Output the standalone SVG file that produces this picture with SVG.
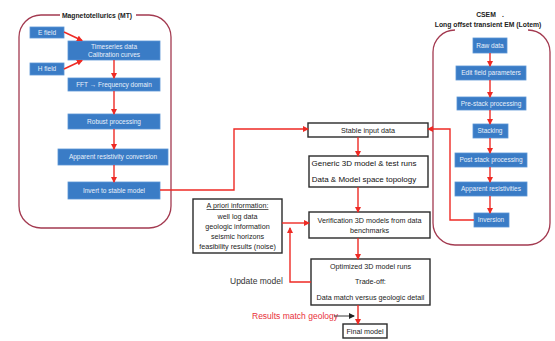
<svg xmlns="http://www.w3.org/2000/svg" width="555" height="341" viewBox="0 0 555 341">
<style>
.frame{fill:none;stroke:#a33a50;stroke-width:1.3}
.blue{fill:#3a7cc6;stroke:#5b95d4;stroke-width:0.8}
.bt{font-family:"Liberation Sans",Arial,sans-serif;font-size:6.5px;fill:#e8f0fa;text-anchor:middle}
.box{fill:#fff;stroke:#2a2a2a;stroke-width:1.4}
.kt{font-family:"Liberation Sans",Arial,sans-serif;font-size:7.2px;fill:#222;text-anchor:middle}
.gt{font-family:"Liberation Sans",Arial,sans-serif;font-size:8px;fill:#111;text-anchor:middle}
.ttl{font-family:"Liberation Sans",Arial,sans-serif;font-size:6.8px;font-weight:bold;fill:#222;text-anchor:middle}
.red{fill:none;stroke:#ee2a24;stroke-width:1.4}
.blk{fill:none;stroke:#222;stroke-width:0.9}
</style>
<defs>
<marker id="ar" markerWidth="6" markerHeight="6" refX="5" refY="3" orient="auto" markerUnits="userSpaceOnUse">
<path d="M0,0 L6,3 L0,6 z" fill="#ee2a24"/>
</marker>
<marker id="ab" markerWidth="6" markerHeight="6" refX="5" refY="3" orient="auto" markerUnits="userSpaceOnUse">
<path d="M0,0 L6,3 L0,6 z" fill="#222"/>
</marker>
</defs>

<g id="mt-frame">
<path class="frame" d="M60,15 H41 A22,22 0 0 0 19,37 V206 A22,22 0 0 0 41,228 H149 A22,22 0 0 0 171,206 V37 A22,22 0 0 0 149,15 H136"/>
<text class="ttl" x="97" y="17.5">Magnetotellurics (MT)</text>
</g>
<g id="csem-frame">
<path class="frame" d="M455,30 A22,22 0 0 0 433,52 V223 A22,22 0 0 0 455,245 H528 A22,22 0 0 0 550,223 V52 A22,22 0 0 0 528,30"/>
<text class="ttl" x="486" y="17">CSEM</text>
<text class="ttl" x="503" y="17">.</text>
<text class="ttl" x="488" y="26.5">Long offset transient EM (Lotem)</text>
</g>

<g id="efield"><rect class="blue" x="30" y="27" width="34" height="11"/><text class="bt" x="47" y="34.5">E field</text></g>
<g id="timeseries"><rect class="blue" x="68" y="41" width="92" height="19"/><text class="bt" x="114" y="48.5">Timeseries data</text><text class="bt" x="114" y="57">Calibration curves</text></g>
<g id="hfield"><rect class="blue" x="30" y="63" width="34" height="12"/><text class="bt" x="47" y="71.3">H field</text></g>
<g id="fft"><rect class="blue" x="68" y="78" width="92" height="13"/><text class="bt" x="114" y="86.8">FFT → Frequency domain</text></g>
<g id="robust"><rect class="blue" x="68" y="114" width="92" height="15"/><text class="bt" x="114" y="123.8">Robust processing</text></g>
<g id="appres"><rect class="blue" x="58" y="149" width="110" height="16"/><text class="bt" x="113" y="159.3">Apparent resistivity conversion</text></g>
<g id="invert"><rect class="blue" x="68" y="182" width="92" height="17"/><text class="bt" x="114" y="192.8">Invert to stable model</text></g>

<g id="rawdata"><rect class="blue" x="473" y="38" width="34" height="15"/><text class="bt" x="490" y="47.5">Raw data</text></g>
<g id="editfield"><rect class="blue" x="456" y="66" width="70" height="14"/><text class="bt" x="491" y="75.3">Edit field parameters</text></g>
<g id="prestack"><rect class="blue" x="457" y="97" width="69" height="13"/><text class="bt" x="491" y="105.8">Pre-stack processing</text></g>
<g id="stacking"><rect class="blue" x="473" y="124" width="35" height="14"/><text class="bt" x="490" y="133.3">Stacking</text></g>
<g id="poststack"><rect class="blue" x="455" y="153" width="72" height="14"/><text class="bt" x="491" y="162.3">Post stack processing</text></g>
<g id="appresist"><rect class="blue" x="455" y="182" width="72" height="14"/><text class="bt" x="491" y="191.3">Apparent resistivities</text></g>
<g id="inversion"><rect class="blue" x="474" y="213" width="35" height="14"/><text class="bt" x="491" y="222.3">Inversion</text></g>

<g id="stable"><rect class="box" x="308" y="123" width="120" height="14"/><text class="kt" x="368" y="132.5">Stable input data</text></g>
<g id="generic"><rect class="box" x="309" y="156" width="119" height="31"/><text class="gt" x="364" y="166">Generic 3D model &amp; test runs</text><text class="gt" x="364" y="182">Data &amp; Model space topology</text></g>
<g id="apriori"><rect class="box" x="193" y="199" width="89" height="54"/>
<text class="kt" x="237.5" y="208" style="text-decoration:underline">A priori information:</text>
<text class="kt" x="237.5" y="218.5">well log data</text>
<text class="kt" x="237.5" y="228.5">geologic information</text>
<text class="kt" x="237.5" y="238.5">seismic horizons</text>
<text class="kt" x="237.5" y="248.5">feasibility results (noise)</text></g>
<g id="verification"><rect class="box" x="309" y="212" width="121" height="26"/><text class="kt" x="369.5" y="222.5">Verification 3D models from data</text><text class="kt" x="369.5" y="232.5">benchmarks</text></g>
<g id="optimized"><rect class="box" x="311" y="259" width="119" height="46"/><text class="kt" x="370.5" y="268.5">Optimized 3D model runs</text><text class="kt" x="370.5" y="284">Trade-off:</text><text class="kt" x="370.5" y="300">Data match versus geologic detail</text></g>
<g id="final"><rect class="box" x="343" y="324" width="44" height="14"/><text class="kt" x="365" y="333.5">Final model</text></g>

<g id="labels">
<text x="230" y="284" style="font-family:'Liberation Sans',Arial,sans-serif;font-size:8.5px;fill:#333">Update model</text>
<text x="252" y="319" style="font-family:'Liberation Sans',Arial,sans-serif;font-size:8.5px;fill:#e8303a">Results match geology</text>
</g>

<g id="connectors">
<line class="red" x1="64" y1="32" x2="82" y2="40.5" marker-end="url(#ar)"/>
<line class="red" x1="64" y1="69" x2="82" y2="60.5" marker-end="url(#ar)"/>
<line class="red" x1="114" y1="60" x2="114" y2="78" marker-end="url(#ar)"/>
<line class="red" x1="114" y1="91" x2="114" y2="114" marker-end="url(#ar)"/>
<line class="red" x1="114" y1="129" x2="114" y2="149" marker-end="url(#ar)"/>
<line class="red" x1="114" y1="165" x2="114" y2="182" marker-end="url(#ar)"/>
<path class="red" d="M160,190 H234 V129 H308" marker-end="url(#ar)"/>
<line class="red" x1="490" y1="53" x2="490" y2="66" marker-end="url(#ar)"/>
<line class="red" x1="490" y1="80" x2="490" y2="97" marker-end="url(#ar)"/>
<line class="red" x1="490" y1="110" x2="490" y2="124" marker-end="url(#ar)"/>
<line class="red" x1="490" y1="138" x2="490" y2="153" marker-end="url(#ar)"/>
<line class="red" x1="490" y1="167" x2="490" y2="182" marker-end="url(#ar)"/>
<line class="red" x1="490" y1="196" x2="490" y2="213" marker-end="url(#ar)"/>
<path class="red" d="M474,220 H450 V129 H428" marker-end="url(#ar)"/>
<line class="red" x1="358" y1="137" x2="358" y2="156" marker-end="url(#ar)"/>
<line class="red" x1="358" y1="187" x2="358" y2="212" marker-end="url(#ar)"/>
<line class="red" x1="282" y1="223" x2="309" y2="223" marker-end="url(#ar)"/>
<line class="red" x1="358" y1="238" x2="358" y2="259" marker-end="url(#ar)"/>
<path class="red" d="M311,282 H290 V228" marker-end="url(#ar)"/>
<line class="red" x1="358" y1="305" x2="358" y2="324" marker-end="url(#ar)"/>
<line class="blk" x1="334" y1="316" x2="354" y2="316" marker-end="url(#ab)"/>
</g>
</svg>
